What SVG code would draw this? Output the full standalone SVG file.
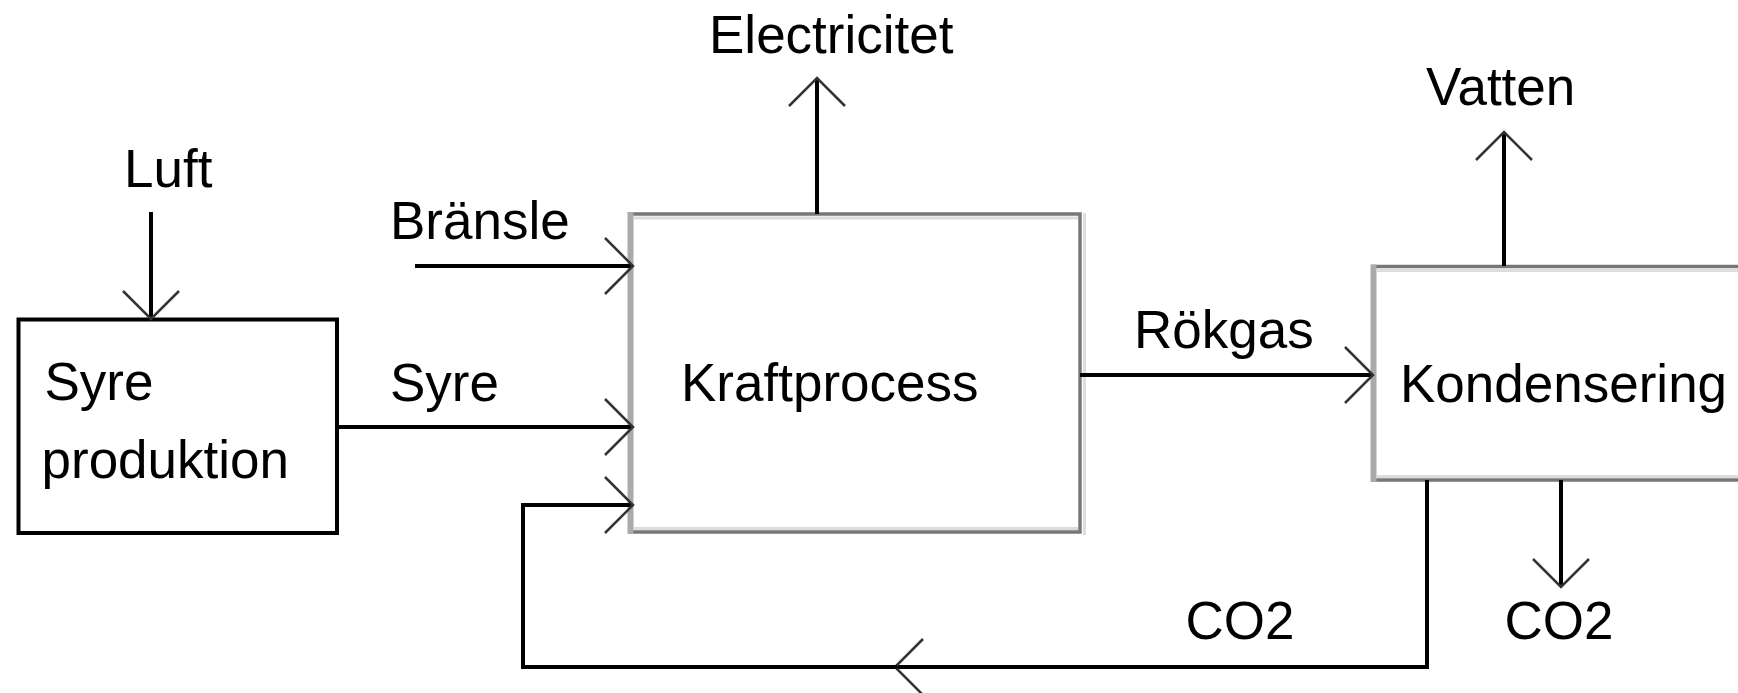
<svg xmlns="http://www.w3.org/2000/svg" width="1738" height="693" viewBox="0 0 1738 693">
<style>
text{font-family:"Liberation Sans",Arial,Helvetica,sans-serif;font-size:53px;fill:#000}
.blk{fill:#fff;stroke:#000;stroke-width:4}
.gbox{fill:#fff;stroke:#777;stroke-width:3.5}
.gleft{stroke:#aaa;stroke-width:6;fill:none}
.glight{stroke:#ddd;stroke-width:3;fill:none}
.flow{fill:none;stroke:#000;stroke-width:4}
</style>
<defs>
<marker id="open" markerUnits="userSpaceOnUse" markerWidth="40" markerHeight="64" viewBox="-34 -32 40 64" refX="0" refY="0" orient="auto" overflow="visible">
<path d="M-28,-28 L0,0 L-28,28" fill="none" stroke="#333" stroke-width="2.5"/>
</marker>
</defs>
<rect width="1738" height="693" fill="#fff"/>
<g id="syre-produktion">
<rect class="blk" x="18.5" y="319.5" width="318.5" height="213.5"/>
<text x="44.5" y="400">Syre</text>
<text x="41.5" y="478">produktion</text>
</g>
<g id="kraftprocess">
<rect class="gbox" x="630" y="214" width="450" height="318"/>
<line class="glight" x1="634" y1="218" x2="1078" y2="218"/>
<line class="glight" x1="634" y1="528.5" x2="1078" y2="528.5"/>
<line class="glight" x1="1084.5" y1="213" x2="1084.5" y2="535"/>
<line class="gleft" x1="630.5" y1="212" x2="630.5" y2="534"/>
<text x="681" y="401">Kraftprocess</text>
</g>
<g id="kondensering">
<rect class="gbox" x="1373" y="266.5" width="400" height="213.5"/>
<line class="glight" x1="1377" y1="270.5" x2="1740" y2="270.5"/>
<line class="glight" x1="1377" y1="476.5" x2="1740" y2="476.5"/>
<line class="gleft" x1="1373.5" y1="264.5" x2="1373.5" y2="482"/>
<text x="1400" y="402">Kondensering</text>
</g>
<g id="connectors">
<line class="flow" x1="151" y1="212" x2="151" y2="319" marker-end="url(#open)"/>
<line class="flow" x1="415" y1="266" x2="633" y2="266" marker-end="url(#open)"/>
<line class="flow" x1="337" y1="427" x2="633" y2="427" marker-end="url(#open)"/>
<path class="flow" d="M1427,480 L1427,667 L895,667" marker-end="url(#open)"/>
<path class="flow" d="M897,667 L523,667 L523,505 L633,505" marker-end="url(#open)"/>
<line class="flow" x1="817" y1="214" x2="817" y2="78" marker-end="url(#open)"/>
<line class="flow" x1="1080" y1="375" x2="1373" y2="375" marker-end="url(#open)"/>
<line class="flow" x1="1504" y1="266" x2="1504" y2="132" marker-end="url(#open)"/>
<line class="flow" x1="1561" y1="480" x2="1561" y2="587" marker-end="url(#open)"/>
</g>
<g id="labels">
<text x="124" y="187">Luft</text>
<text x="390" y="239">Bränsle</text>
<text x="390" y="401">Syre</text>
<text x="709" y="53">Electricitet</text>
<text x="1134" y="348">Rökgas</text>
<text x="1426" y="105">Vatten</text>
<text x="1185.5" y="639">CO2</text>
<text x="1504.5" y="639">CO2</text>
</g>
</svg>
